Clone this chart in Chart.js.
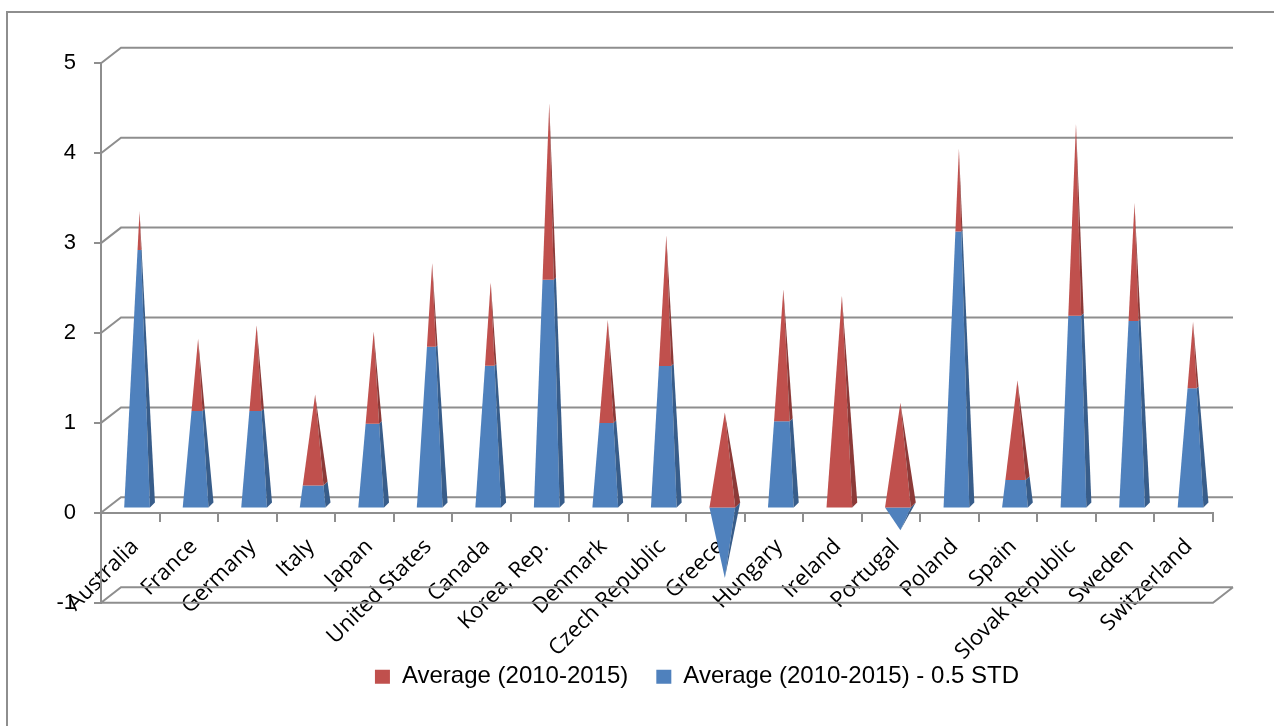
<!DOCTYPE html>
<html>
<head>
<meta charset="utf-8">
<script src="https://cdn.jsdelivr.net/npm/chart.js@4.4.0/dist/chart.umd.min.js"></script>
<style>
  html, body { margin: 0; padding: 0; background: #fff; }
  #wrap { width: 1274px; height: 726px; position: relative; }
</style>
</head>
<body>
<div id="wrap"><canvas id="chart"></canvas></div>
<script>
const countries = ["Australia", "France", "Germany", "Italy", "Japan", "United States", "Canada",
    "Korea, Rep.", "Denmark", "Czech Republic", "Greece", "Hungary", "Ireland", "Portugal",
    "Poland", "Spain", "Slovak Republic", "Sweden", "Switzerland"];
// pyramid tops (red) and the blue level below them
const averageValues = [3.27, 1.85, 2.00, 1.23, 1.93, 2.69, 2.48, 4.47, 2.06, 3.00,
    1.03, 2.40, 2.33, 1.14, 3.96, 1.39, 4.24, 3.36, 2.04];
const lowerValues = [2.84, 1.06, 1.06, 0.24, 0.92, 1.77, 1.56, 2.52, 0.93, 1.56,
    -0.81, 0.95, 0, -0.28, 3.05, 0.30, 2.12, 2.06, 1.31];
const yTicks = { min: -1, max: 5, step: 1 };
const seriesNames = ["Average (2010-2015)", "Average (2010-2015) - 0.5 STD"];

const GRID = "#8e8e8e";
const RED = "#C0504D", RED_SIDE = "#8C3A38";
const BLUE = "#4F81BD", BLUE_SIDE = "#385D8A";
const OX = 6.8, OY = -5.2, SIDE = 5;   // pyramid sits a bit behind the front axis
const DX = 20, DY = -15.5;            // depth of back wall

const poly = (ctx, pts, color) => {
    ctx.beginPath();
    ctx.moveTo(pts[0][0], pts[0][1]);
    for (let k = 1; k < pts.length; k++) ctx.lineTo(pts[k][0], pts[k][1]);
    ctx.closePath();
    ctx.fillStyle = color;
    ctx.fill();
};
const lerp = (a, b, t) => [a[0] + (b[0] - a[0]) * t, a[1] + (b[1] - a[1]) * t];

const pyramids = {
    id: "pyramids",
    beforeDraw(chart) {
        const ctx = chart.ctx;
        ctx.save();
        ctx.strokeStyle = GRID;
        ctx.lineWidth = 2;
        ctx.beginPath();
        ctx.moveTo(7, chart.height);
        ctx.lineTo(7, 12);
        ctx.lineTo(chart.width, 12);
        ctx.stroke();
        ctx.restore();
    },
    afterLayout(chart) {
        chart.legend.left = 120;
        chart.legend.right = 1274;
    },
    beforeDatasetDraw() {
        return false;
    },
    beforeDatasetsDraw(chart) {
        const ctx = chart.ctx;
        const y = chart.scales.y;
        const { left, right } = chart.chartArea;
        ctx.save();
        ctx.strokeStyle = GRID;
        ctx.lineWidth = 2;
        ctx.beginPath();
        y.ticks.forEach(t => {
            const py = y.getPixelForValue(t.value);
            ctx.moveTo(left, py);
            ctx.lineTo(left + DX, py + DY);
            ctx.lineTo(right + DX, py + DY);
        });
        const pMin = y.getPixelForValue(y.min);
        ctx.moveTo(left, pMin);
        ctx.lineTo(right, pMin);
        ctx.lineTo(right + DX, pMin + DY);
        ctx.stroke();
        ctx.restore();
    },
    afterDatasetsDraw(chart) {
        const ctx = chart.ctx;
        const zeroY = chart.scales.y.getPixelForValue(0);
        const redMeta = chart.getDatasetMeta(0);
        const blueMeta = chart.getDatasetMeta(1);
        ctx.save();
        redMeta.data.forEach((redBar, i) => {
            const blueBar = blueMeta.data[i];
            const half = redBar.width / 2;
            const cx = redBar.x + OX;
            const by = zeroY + OY;
            const BL = [cx - half, by], BR = [cx + half, by], BS = [cx + half + SIDE, by - SIDE];

            if (blueBar.y > zeroY + 0.5) {
                const down = [cx + SIDE / 2, blueBar.y + OY - SIDE / 2];
                poly(ctx, [BL, BR, down], BLUE);
                poly(ctx, [BR, BS, down], BLUE_SIDE);
            }

            const apex = [cx + SIDE / 2, redBar.y + OY - SIDE / 2];
            let f = 0;
            if (blueBar.y < zeroY - 0.5) f = (zeroY - blueBar.y) / (zeroY - redBar.y);
            const L = lerp(BL, apex, f), R = lerp(BR, apex, f), S = lerp(BS, apex, f);
            if (f > 0) {
                poly(ctx, [BL, BR, R, L], BLUE);
                poly(ctx, [BR, BS, S, R], BLUE_SIDE);
            }
            poly(ctx, [L, R, apex], RED);
            poly(ctx, [R, S, apex], RED_SIDE);
        });
        ctx.restore();
    }
};

new Chart(document.getElementById("chart"), {
    type: "bar",
    data: {
        labels: countries,
        datasets: [
            { label: seriesNames[0], data: averageValues, backgroundColor: RED, borderWidth: 0,
              grouped: false, barPercentage: 0.44, categoryPercentage: 1 },
            { label: seriesNames[1], data: lowerValues, backgroundColor: BLUE, borderWidth: 0,
              grouped: false, barPercentage: 0.44, categoryPercentage: 1 }
        ]
    },
    options: {
        responsive: true,
        maintainAspectRatio: false,
        animation: false,
        devicePixelRatio: 1,
        layout: { padding: { left: 0, right: 61, top: 63.3, bottom: 27.2 } },
        plugins: {
            tooltip: { enabled: false },
            legend: {
                position: "bottom",
                title: { display: true, text: "", padding: 0, font: { size: 28.4 } },
                labels: {
                    boxWidth: 15, boxHeight: 14, padding: 28, color: "#000",
                    font: { family: "Liberation Sans", size: 24 }
                }
            }
        },
        scales: {
            x: {
                position: { y: 0 },
                offset: true,
                grid: { drawOnChartArea: false, drawTicks: true, tickLength: 8, color: GRID, lineWidth: 2, offset: true },
                border: { display: true, color: GRID, width: 2 },
                ticks: {
                    autoSkip: false, minRotation: 45, maxRotation: 45, padding: 13, labelOffset: 5,
                    color: "#000", font: { family: "Open Sans", size: 22 }
                }
            },
            y: {
                min: yTicks.min, max: yTicks.max,
                ticks: { stepSize: yTicks.step, padding: 18, color: "#000", font: { family: "Liberation Sans", size: 22 } },
                grid: { drawOnChartArea: false, drawTicks: true, tickLength: 7, color: GRID, lineWidth: 2 },
                border: { display: true, color: GRID, width: 2 },
                afterFit(scale) { scale.width = 101; }
            }
        }
    },
    plugins: [pyramids]
});
</script>
</body>
</html>
